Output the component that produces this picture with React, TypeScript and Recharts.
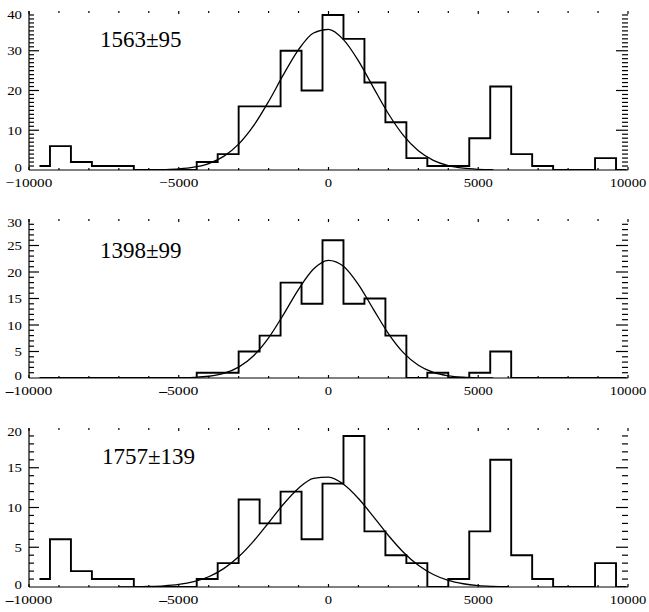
import React from 'react';
import { ComposedChart, Line, XAxis, YAxis, ReferenceLine } from 'recharts';

// ---------- data ----------
const binCenters = [
  -9650, -8950, -8250, -7550, -6850, -6150, -5450, -4750, -4050, -3350,
  -2650, -1950, -1250, -550, 150, 850, 1550, 2250, 2950, 3650,
  4350, 5050, 5750, 6450, 7150, 7850, 8550, 9250, 9950,
];
const counts1 = [1, 6, 2, 1, 1, 0, 0, 0, 2, 4, 16, 16, 30, 20, 39, 33, 22, 12, 3, 1, 1, 8, 21, 4, 1, 0, 0, 3, 0];
const counts2 = [0, 0, 0, 0, 0, 0, 0, 0, 1, 1, 5, 8, 18, 14, 26, 14, 15, 8, 0, 1, 0, 1, 5, 0, 0, 0, 0, 0, 0];
const counts3 = [1, 6, 2, 1, 1, 0, 0, 0, 1, 3, 11, 8, 12, 6, 13, 19, 7, 4, 3, 0, 1, 7, 16, 4, 1, 0, 0, 3, 0];

const fitX1 = [-6500, -6000, -5500, -5000, -4500, -4000, -3500, -3000, -2500, -2000, -1500, -1000, -500, 0, 500, 1000, 1500, 2000, 2500, 3000, 3500, 4000, 4500, 5000, 5500];
const fitY1 = [0.01, 0.03, 0.1, 0.27, 0.7, 1.63, 3.43, 6.5, 11.14, 17.23, 24.04, 30.29, 34.47, 35.4, 32.81, 27.47, 20.74, 14.15, 8.71, 4.84, 2.43, 1.1, 0.45, 0.17, 0.06];

const fitX2 = [-5500, -5000, -4500, -4000, -3500, -3000, -2500, -2000, -1500, -1000, -500, 0, 500, 1000, 1500, 2000, 2500, 3000, 3500, 4000, 4500, 5000, 5500];
const fitY2 = [0.01, 0.03, 0.11, 0.33, 0.88, 2.06, 4.21, 7.57, 12.01, 16.74, 20.55, 22.19, 21.08, 17.62, 12.96, 8.39, 4.78, 2.4, 1.06, 0.41, 0.14, 0.04, 0.01];

const fitX3 = [-7000, -6500, -6000, -5500, -5000, -4500, -4000, -3500, -3000, -2500, -2000, -1500, -1000, -500, 0, 500, 1000, 1500, 2000, 2500, 3000, 3500, 4000, 4500, 5000, 5500, 6000];
const fitY3 = [0.01, 0.02, 0.06, 0.14, 0.32, 0.67, 1.29, 2.31, 3.8, 5.77, 8.08, 10.44, 12.43, 13.66, 13.83, 12.93, 11.14, 8.85, 6.48, 4.38, 2.73, 1.57, 0.83, 0.41, 0.18, 0.08, 0.03];

const xLabels = [-10000, -5000, 0, 5000, 10000];
const xMinorTicks = [-9000, -8000, -7000, -6000, -4000, -3000, -2000, -1000, 1000, 2000, 3000, 4000, 6000, 7000, 8000, 9000];
const yLabels1 = [0, 10, 20, 30, 40];
const yLabels2 = [0, 5, 10, 15, 20, 25, 30];
const yLabels3 = [0, 5, 10, 15, 20];
const fitLabels = ['1563±95', '1398±99', '1757±139'];

// ---------- styling ----------
const FONT = '"Liberation Serif", "Times New Roman", serif';
const X_MIN = -10000;
const X_MAX = 10000;
const PLOT_W = 599;
const PLOT_H = 159;

const makeRows = (xs: number[], ys: number[]) => xs.map((x, i) => ({ x, y: ys[i] }));

const BottomLabel = (props: any) => {
  const { x, y, payload, boldDash } = props;
  const v = payload.value;
  const neg = v < 0;
  const digits = String(Math.abs(v));
  return (
    <text
      x={x}
      y={Number(y) + 17}
      textAnchor="middle"
      fontFamily={FONT}
      fontSize={13.5}
      fill="#000"
      textLength={(neg ? 10 : 0) + digits.length * 7.3}
      lengthAdjust="spacingAndGlyphs"
    >
      {neg && (boldDash ? <tspan fontWeight="bold">{'\u2013'}</tspan> : '\u2212')}
      {digits}
    </text>
  );
};

const LeftLabel = (props: any) => {
  const { x, y, payload, max } = props;
  const v = payload.value;
  let dy = 4.5;
  if (v === max) dy += 3;
  if (v === 0) dy -= 3;
  return (
    <text
      x={Number(x) - 7}
      y={Number(y) + dy}
      textAnchor="end"
      fontFamily={FONT}
      fontSize={13.5}
      fill="#000"
      textLength={String(v).length * 7.4}
      lengthAdjust="spacingAndGlyphs"
    >
      {String(v)}
    </text>
  );
};

const AX = { stroke: '#000', strokeWidth: 1.2 };

type PanelProps = {
  top: number;
  counts: number[];
  fitX: number[];
  fitY: number[];
  yMax: number;
  yLabels: number[];
  label: string;
  labelLeft: number;
  labelTop: number;
  boldDash: boolean;
};

const Panel = ({ top, counts, fitX, fitY, yMax, yLabels, label, labelLeft, labelTop, boldDash }: PanelProps) => {
  const hist = makeRows(binCenters, counts);
  const fit = makeRows(fitX, fitY);

  // tick marks drawn inward as short segments (pixel lengths converted to data units)
  const yPerPx = yMax / PLOT_H;
  const xPerPx = (X_MAX - X_MIN) / PLOT_W;
  const tickSegs: { key: string; seg: { x: number; y: number }[] }[] = [];
  const addX = (v: number, len: number) => {
    tickSegs.push({ key: `xb${v}`, seg: [{ x: v, y: 0 }, { x: v, y: len * yPerPx }] });
    tickSegs.push({ key: `xt${v}`, seg: [{ x: v, y: yMax }, { x: v, y: yMax - len * yPerPx }] });
  };
  xMinorTicks.forEach((v) => addX(v, 2));
  xLabels.forEach((v) => addX(v, 3));
  for (let v = 1; v < yMax; v++) {
    const major = yLabels.includes(v);
    const lenL = major ? 10 : 5;
    const lenR = major ? 12 : 6;
    tickSegs.push({ key: `yl${v}`, seg: [{ x: X_MIN, y: v }, { x: X_MIN + lenL * xPerPx, y: v }] });
    tickSegs.push({ key: `yr${v}`, seg: [{ x: X_MAX, y: v }, { x: X_MAX - lenR * xPerPx, y: v }] });
  }

  return (
    <div style={{ position: 'absolute', left: 0, top, width: 649, height: 200 }}>
      <ComposedChart width={649} height={200} margin={{ top: 11, right: 21, bottom: 0, left: 0 }}>
        <XAxis
          xAxisId="b"
          dataKey="x"
          type="number"
          domain={[X_MIN, X_MAX]}
          allowDataOverflow
          ticks={xLabels}
          interval={0}
          tickSize={0}
          tickMargin={0}
          height={30}
          axisLine={AX}
          tickLine={false}
          tick={(p: any) => <BottomLabel {...p} boldDash={boldDash} />}
        />
        <XAxis
          xAxisId="t"
          orientation="top"
          dataKey="x"
          type="number"
          domain={[X_MIN, X_MAX]}
          allowDataOverflow
          ticks={xLabels}
          height={0}
          axisLine={AX}
          tickLine={false}
          tick={false}
        />
        <YAxis
          yAxisId="l"
          type="number"
          domain={[0, yMax]}
          allowDataOverflow
          ticks={yLabels}
          interval={0}
          tickSize={0}
          tickMargin={0}
          width={29}
          axisLine={AX}
          tickLine={false}
          tick={(p: any) => <LeftLabel {...p} max={yMax} />}
        />
        <YAxis
          yAxisId="r"
          orientation="right"
          type="number"
          domain={[0, yMax]}
          allowDataOverflow
          ticks={yLabels}
          width={0}
          axisLine={AX}
          tickLine={false}
          tick={false}
        />
        {tickSegs.map((t) => (
          <ReferenceLine
            key={t.key}
            xAxisId="b"
            yAxisId="l"
            segment={t.seg}
            stroke="#000"
            strokeWidth={1.2}
            ifOverflow="visible"
          />
        ))}
        <Line
          xAxisId="b"
          yAxisId="l"
          data={fit}
          dataKey="y"
          type="monotone"
          stroke="#000"
          strokeWidth={1.3}
          dot={false}
          activeDot={false}
          isAnimationActive={false}
        />
        <Line
          xAxisId="b"
          yAxisId="l"
          data={hist}
          dataKey="y"
          type="step"
          stroke="#000"
          strokeWidth={1.9}
          dot={false}
          activeDot={false}
          isAnimationActive={false}
        />
      </ComposedChart>
      <div
        style={{
          position: 'absolute',
          left: labelLeft,
          top: labelTop,
          fontFamily: FONT,
          fontSize: 23,
          lineHeight: '23px',
          color: '#000',
          whiteSpace: 'nowrap',
        }}
      >
        {label}
      </div>
    </div>
  );
}

export default function App() {
  return (
    <div style={{ position: 'absolute', left: 0, top: 0, width: 649, height: 612, background: '#fff' }}>
      <Panel top={0} counts={counts1} fitX={fitX1} fitY={fitY1} yMax={40} yLabels={yLabels1} label={fitLabels[0]} labelLeft={100} labelTop={28} boldDash={false} />
      <Panel top={208} counts={counts2} fitX={fitX2} fitY={fitY2} yMax={30} yLabels={yLabels2} label={fitLabels[1]} labelLeft={100} labelTop={31} boldDash={true} />
      <Panel top={417} counts={counts3} fitX={fitX3} fitY={fitY3} yMax={20} yLabels={yLabels3} label={fitLabels[2]} labelLeft={102} labelTop={28} boldDash={true} />
    </div>
  );
}
